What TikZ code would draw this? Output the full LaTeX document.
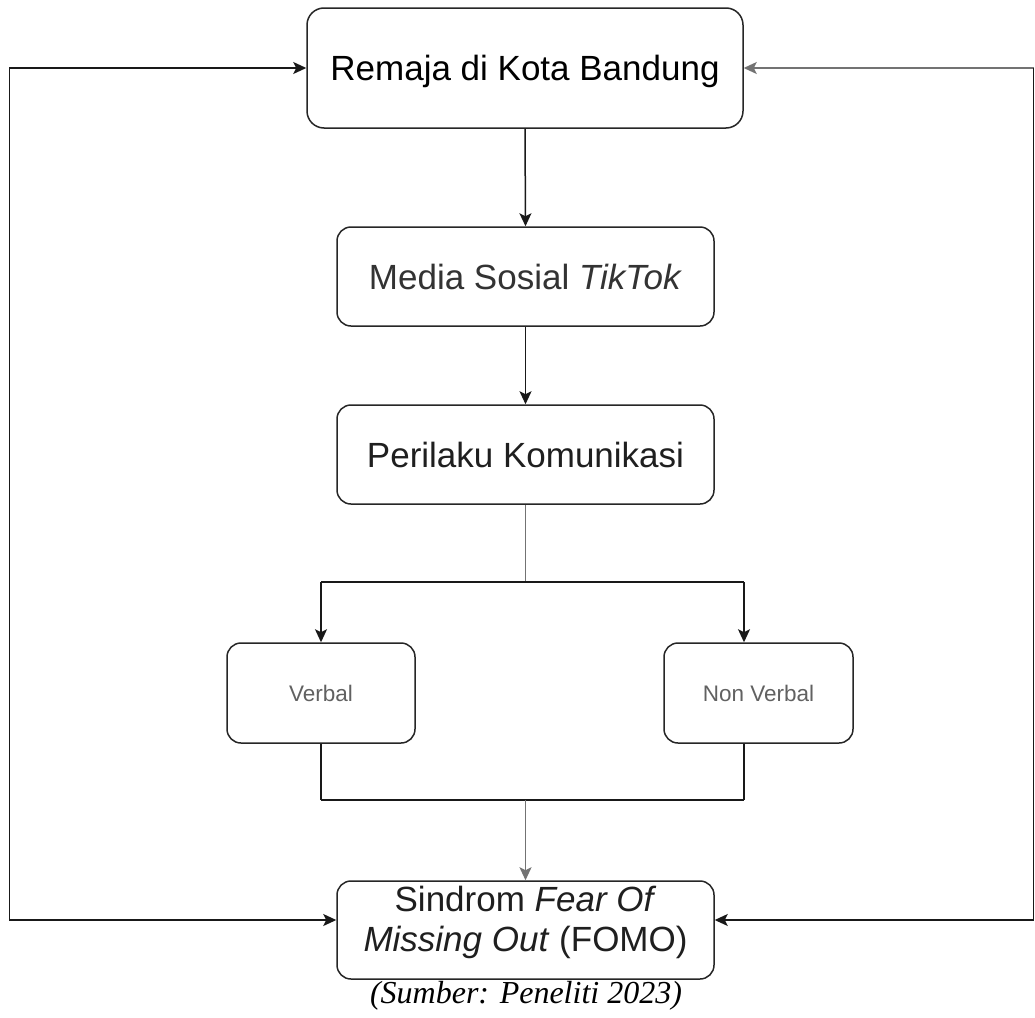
\documentclass[tikz,border=0pt]{standalone}
\usepackage{fontspec}
\setmainfont{Liberation Sans}
\newfontfamily\capfont{Liberation Serif}
\usetikzlibrary{arrows.meta}
\begin{document}
\begin{tikzpicture}[x=1pt,y=-1pt,
  box/.style={draw=black!85, line width=1.5pt, rounded corners=14pt, inner sep=0pt, anchor=center},
  big/.style={font=\fontsize{35}{40}\selectfont, text=black!88},
  bigone/.style={big, text height=25pt, text depth=0pt},
  small/.style={font=\fontsize{22.5}{27}\selectfont, text=black!62, text height=16pt, text depth=0pt},
  conn/.style={draw=black!90, line width=1.5pt},
  tip/.tip={Stealth[length=13pt,width=12pt,inset=3pt]},
  arr/.style={conn, -tip},
  both/.style={conn, tip-tip},
]
\useasboundingbox (0,0) rectangle (1035,1017);
\fill[white] (0,0) rectangle (1035,1017);

% boxes
\node[box,bigone,text=black,minimum width=436pt,minimum height=120pt,rounded corners=17pt] (r) at (525,68) {Remaja di Kota Bandung};
\node[box,bigone,text=black!80,minimum width=377pt,minimum height=99pt] (m) at (525.5,276.5) {Media Sosial \textit{TikTok}};
\node[box,bigone,minimum width=377pt,minimum height=99pt] (p) at (525.5,454.5) {Perilaku Komunikasi};
\node[box,small,minimum width=188pt,minimum height=100pt] (v) at (321,693) {Verbal};
\node[box,small,minimum width=189pt,minimum height=100pt] (nv) at (758.5,693) {Non Verbal};
\node[box,minimum width=377pt,minimum height=98pt] (f) at (525.5,930) {};
\node[big,align=center,inner sep=0pt] (ft) at (525.5,922.5) {Sindrom \textit{Fear Of}\\\textit{Missing Out} (FOMO)};

% caption
\node[font=\capfont\itshape\fontsize{32}{38}\selectfont, anchor=base, inner sep=0pt] (cap) at (526,1003) {(Sumber: Peneliti 2023)};

% main chain
\draw[arr] (r.south) -- (m.north);
\draw[arr] (m.south) -- (p.north);

% branch
\coordinate (bl) at (321,582);
\coordinate (br) at (744,582);
\coordinate (bm) at (525.5,582);
\draw[conn, draw=black!55] (p.south) -- (bm);
\draw[conn] (bl) -- (br);
\draw[arr] (bl) -- (v.north);
\draw[arr] (br) -- (br |- nv.north);

% merge
\coordinate (ml) at (321,800);
\coordinate (mr) at (744,800);
\coordinate (mm) at (525.5,800);
\draw[conn] (v.south) -- (ml);
\draw[conn] (mr |- nv.south) -- (mr);
\draw[conn] (ml) -- (mr);
\draw[arr, draw=black!55] (mm) -- (f.north);

% side loops
\coordinate (lt) at (9.5,68);
\coordinate (lb) at (9.5,920);
\coordinate (rt) at (1033.5,68);
\coordinate (rb) at (1033.5,920);
\draw[both] (r.west) -- (lt) -- (lb) -- (f.west |- lb);
\draw[conn, draw=black!55, -tip] (rt) -- (r.east);
\draw[arr] (rt) -- (rb) -- (f.east |- rb);
\end{tikzpicture}
\end{document}
